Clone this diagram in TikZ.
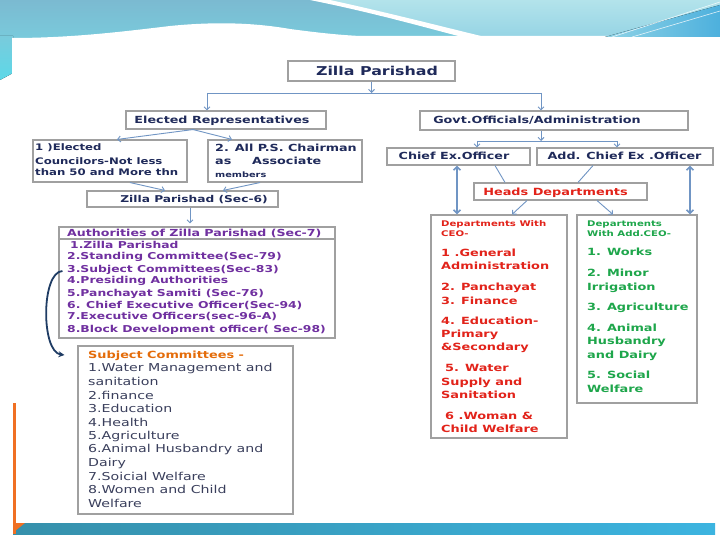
\documentclass[tikz,border=0pt]{standalone}
\usepackage{fontspec}
\setmainfont{DejaVu Sans}[FakeStretch=1.3]
\usetikzlibrary{arrows.meta,shadows}
\definecolor{navy}{HTML}{1F2A5A}
\definecolor{purp}{HTML}{7030A0}
\definecolor{dred}{HTML}{E2231A}
\definecolor{dgreen}{HTML}{1EA64B}
\definecolor{orng}{HTML}{E46C0A}
\definecolor{slate}{HTML}{3A3F5C}
\definecolor{conn}{HTML}{7095C4}
\definecolor{bxgray}{HTML}{A0A0A0}
\definecolor{curvec}{HTML}{1F3C64}
\definecolor{dkA}{HTML}{7BBAD1}
\definecolor{dkB}{HTML}{79CBDC}
\definecolor{ltA}{HTML}{B3E3EB}
\definecolor{ltB}{HTML}{93D3E4}
\definecolor{cyanb}{HTML}{5CD8E8}
\definecolor{barl}{HTML}{3690AB}
\definecolor{barr}{HTML}{3CB4E0}
\definecolor{orline}{HTML}{F07023}
\definecolor{wedA}{HTML}{8FD3E6}
\definecolor{wedB}{HTML}{4DB0DD}
\newcommand{\myfs}[1]{\fontsize{#1}{#1}\selectfont}
\begin{document}
\begin{tikzpicture}[x=1pt,y=-1pt,
  bx/.style={draw=bxgray,line width=1.1pt,fill=white,inner sep=0pt,
    drop shadow={shadow xshift=1.2pt,shadow yshift=-1.2pt,opacity=0.3}},
  tl/.style={inner sep=0pt,anchor=base west},
  tc/.style={inner sep=0pt,anchor=base},
  cn/.style={draw=conn,line width=0.9pt},
  cna/.style={cn,-{Straight Barb[length=3pt,width=6pt]}},
  cnd/.style={draw=conn,line width=1.6pt,{Straight Barb[length=3.5pt,width=7pt]}-{Straight Barb[length=3.5pt,width=7pt]}},
  curv/.style={draw=curvec,line width=1.8pt,-{Stealth[length=6pt,width=6pt]}}
]
\useasboundingbox (0,0) rectangle (720,540);
\fill[white] (0,0) rectangle (720,540);
% top banner
\fill[top color=ltA,bottom color=ltB] (0,0) rectangle (720,40);
\fill[top color=dkA,bottom color=dkB] (0,0) -- (320,0) .. controls (380,14) and (430,28) .. (475,40) -- (0,40) -- cycle;
\fill[top color=dkB,bottom color=cyanb] (0,36) -- (13,36) -- (13,73) -- (0,80) -- cycle;
\fill[white] (12,38) .. controls (70,38) and (120,32) .. (170,26) .. controls (210,22) and (250,22) .. (290,29) .. controls (320,33) and (340,35) .. (360,36) -- (720,36) -- (720,540) -- (12,540) -- cycle;
\fill[white] (310,0) -- (330,0) .. controls (385,12) and (440,26) .. (485,37) -- (462,37) .. controls (420,26) and (370,12) .. (310,0) -- cycle;
\fill[left color=wedA,right color=wedB] (605,37) -- (720,5) -- (720,37) -- cycle;
\draw[white,line width=0.6pt,opacity=0.8] (612,37) -- (720,2) (632,37) -- (720,11);
% bottom bar
\fill[left color=barl,right color=barr] (13,523) rectangle (715,534);
\fill[orline] (12.5,403) rectangle (15.5,534);
\fill[orline] (15,523) -- (25,523) -- (15,531) -- cycle;

% boxes
\node[bx,minimum width=167pt,minimum height=20pt] (zp) at (371.5,71) {};
\node[bx,minimum width=200pt,minimum height=18pt] (er) at (226,120) {};
\node[bx,minimum width=268pt,minimum height=19pt] (gov) at (554,120.5) {};
\node[bx,minimum width=154pt,minimum height=42pt] (c1) at (110,161) {};
\node[bx,minimum width=154pt,minimum height=42pt] (c2) at (285,161) {};
\node[bx,minimum width=191pt,minimum height=16pt] (zp6) at (182.5,199) {};
\node[bx,minimum width=276pt,minimum height=99pt] (al) at (197,288.5) {};
\node[bx,minimum width=276pt,minimum height=12pt] (ah) at (197,233) {};
\node[bx,minimum width=215pt,minimum height=168pt] (sc) at (185.5,430) {};
\node[bx,minimum width=143pt,minimum height=17pt] (ceo) at (458.5,156.5) {};
\node[bx,minimum width=176pt,minimum height=17pt] (add) at (625,156.5) {};
\node[bx,minimum width=173pt,minimum height=17pt] (hd) at (560.5,191.5) {};
\node[bx,minimum width=136pt,minimum height=223pt] (dceo) at (499,326.5) {};
\node[bx,minimum width=120pt,minimum height=188pt] (dadd) at (637,309) {};

% connectors
\coordinate (jL) at (207,93);
\coordinate (jR) at (541,93);
\draw[cna] (zp.south) -- (zp.south |- jL);
\draw[cn] (jL) -- (jR);
\draw[cna] (jL) -- (jL |- er.north);
\draw[cna] (jR) -- (jR |- gov.north);
\draw[cna] ([shift={(-33,0)}]er.south) -- ([shift={(7,0)}]c1.north);
\draw[cna] ([shift={(-33,0)}]er.south) -- ([shift={(-53,0)}]c2.north);
\draw[cna] ([shift={(20,0)}]c1.south) -- ([shift={(-17.5,0)}]zp6.north);
\draw[cna] ([shift={(-25,0)}]c2.south) -- ([shift={(40.5,0)}]zp6.north);
\draw[cna,shorten >=3pt] ([shift={(7.5,0)}]zp6.south) -- ([shift={(-7,0)}]ah.north);
\draw[curv] ([shift={(4,-17.5)}]al.west) .. controls (41,272) and (41,352) .. ([shift={(-13,-75)}]sc.west);
\coordinate (jg) at (541,141);
\coordinate (jg1) at (477,141);
\coordinate (jg2) at (617,141);
\draw[cna] ([shift={(-13,0)}]gov.south) -- (jg);
\draw[cn] (jg1) -- (jg2);
\draw[cna] (jg1) -- (jg1 |- ceo.north);
\draw[cna] (jg2) -- (jg2 |- add.north);
\draw[cnd] ([shift={(-1.5,0)}]ceo.south) -- ([shift={(-42,0)}]dceo.north);
\draw[cnd] ([shift={(65,0)}]add.south) -- ([shift={(53,0)}]dadd.north);
\draw[cn] ([shift={(36.5,0)}]ceo.south) -- ([shift={(-55.5,0)}]hd.north);
\draw[cn] ([shift={(-32,0)}]add.south) -- ([shift={(17.5,0)}]hd.north);
\draw[cna] ([shift={(-33.5,0)}]hd.south) -- ([shift={(13,0)}]dceo.north);
\draw[cna] ([shift={(36.5,0)}]hd.south) -- ([shift={(-24,0)}]dadd.north);

% texts
\node[tc,font=\bfseries\myfs{12.2},text=navy] (zp-t) at (377,75.4) {Zilla Parishad};
\node[tc,font=\bfseries\myfs{9.8},text=navy] (er-t) at (222,123.6) {Elected Representatives};
\node[tc,font=\bfseries\myfs{9.8},text=navy] (gov-t) at (537,123.6) {Govt.Officials/Administration};
\foreach \y/\t [count=\i] in {150.9/{1 )Elected},164.2/{Councilors-Not less},175.9/{than 50 and More thn}}
  \node[tl,font=\bfseries\myfs{9},text=navy] (c1-\i) at (35,\y) {\t};
\node[tl,font=\bfseries\myfs{9.8},text=navy] (c2-1) at (215,151.8) {2. All P.S. Chairman};
\node[tl,font=\bfseries\myfs{9.8},text=navy] (c2-2) at (215,164.2) {as};
\node[tl,font=\bfseries\myfs{9.8},text=navy] (c2-3) at (252,164.2) {Associate};
\node[tl,font=\bfseries\myfs{7.5},text=navy] (c2-4) at (215,177.5) {members};
\node[tc,font=\bfseries\myfs{9.4},text=navy] (zp6-t) at (194,202.4) {Zilla Parishad (Sec-6)};
\node[tl,font=\bfseries\myfs{9.7},text=purp] (ah-t) at (67,236.5) {Authorities of Zilla Parishad (Sec-7)};
\foreach \x/\y/\t [count=\i] in {70/248.2/{1.Zilla Parishad},67/259.9/{2.Standing Committee(Sec-79)},67/272.2/{3.Subject Committees(Sec-83)},67/283.9/{4.Presiding Authorities},67/296.2/{5.Panchayat Samiti (Sec-76)},67/308.2/{6. Chief Executive Officer(Sec-94)},67/319.9/{7.Executive Officers(sec-96-A)},67/332.2/{8.Block Development officer( Sec-98)}}
  \node[tl,font=\bfseries\myfs{9.5},text=purp] (al-\i) at (\x,\y) {\t};
\node[tl,font=\bfseries\myfs{9.9},text=orng] (sc-t) at (88,358.6) {Subject Committees -};
\foreach \y/\t [count=\i] in {371.8/{1.Water Management and},385.8/{sanitation},399.2/{2.finance},412.5/{3.Education},426.2/{4.Health},439.5/{5.Agriculture},452.8/{6.Animal Husbandry and},466.8/{Dairy},480.2/{7.Soicial Welfare},493.8/{8.Women and Child},507.5/{Welfare}}
  \node[tl,font=\myfs{10.9},text=slate] (sc-\i) at (88,\y) {\t};
\node[tc,font=\bfseries\myfs{9.8},text=navy] (ceo-t) at (454,160) {Chief Ex.Officer};
\node[tc,font=\bfseries\myfs{9.8},text=navy] (add-t) at (624.5,160) {Add. Chief Ex .Officer};
\node[tc,font=\bfseries\myfs{9.9},text=dred] (hd-t) at (555.5,195.1) {Heads Departments};
\node[tl,font=\bfseries\myfs{7.8},text=dred] (dceo-h1) at (441,226.1) {Departments With};
\node[tl,font=\bfseries\myfs{7.8},text=dred] (dceo-h2) at (441,236.1) {CEO-};
\foreach \x/\y/\t [count=\i] in {441/256.3/{1 .General},441/269.6/{Administration},441/290.9/{2. Panchayat},441/304.3/{3. Finance},441/324.3/{4. Education-},441/337.9/{Primary},441/350.9/{\&Secondary},445/371.9/{5. Water},441/385.9/{Supply and},441/398.6/{Sanitation},445/419.3/{6 .Woman \&},441/432.9/{Child Welfare}}
  \node[tl,font=\bfseries\myfs{9.9},text=dred] (dceo-\i) at (\x,\y) {\t};
\node[tl,font=\bfseries\myfs{7.8},text=dgreen] (dadd-h1) at (587,226.1) {Departments};
\node[tl,font=\bfseries\myfs{7.8},text=dgreen] (dadd-h2) at (587,236.1) {With Add.CEO-};
\foreach \y/\t [count=\i] in {255.6/{1. Works},276.6/{2. Minor},290.6/{Irrigation},310.6/{3. Agriculture},331.0/{4. Animal},344.3/{Husbandry},358.3/{and Dairy},378.3/{5. Social},392.3/{Welfare}}
  \node[tl,font=\bfseries\myfs{9.9},text=dgreen] (dadd-\i) at (587,\y) {\t};
\end{tikzpicture}
\end{document}
